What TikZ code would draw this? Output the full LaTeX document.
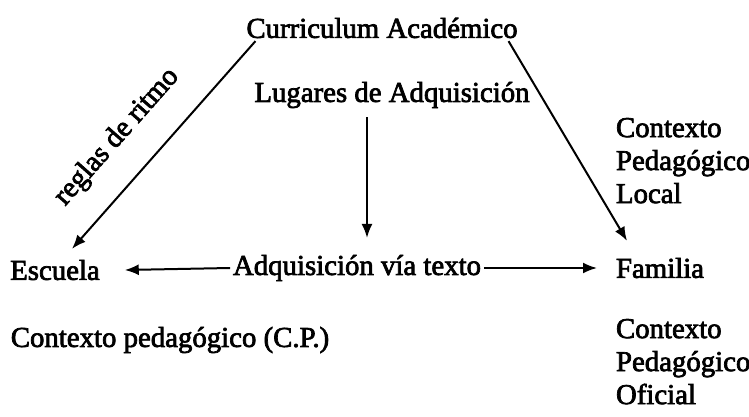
\documentclass[tikz,border=0pt]{standalone}
\usepackage{fontspec}
\setmainfont{Liberation Serif}[UprightFeatures={FakeBold=2.5}]
\usetikzlibrary{arrows.meta, positioning}

\begin{document}
\begin{tikzpicture}[x=0.5pt, y=-0.5pt, >={Latex[length=7pt,width=5.5pt]}, line width=1pt, font=\fontsize{14.4}{16.5}\selectfont]
      \tikzstyle{every node}=[inner sep=1pt, text=black]
      \tikzstyle{block}=[align=left, anchor=north west, inner sep=0pt]
      \useasboundingbox (0,0) rectangle (749,417);
      \node (CA) at (382,28) {Curriculum Académico};
      \node (LA) at (392,95) {Lugares de Adquisición};
      \node (AT) at (357,268) {Adquisición vía texto};
      \node (Es) at (55,270) {Escuela};
      \node (Fa) at (660,268) {Familia};
      \node (CP) at (170,340) {Contexto pedagógico (C.P.)};
      \node[block] (PL) at (615,117) {Contexto\\Pedagógico\\Local};
      \node[block] (PO) at (615,318) {Contexto\\Pedagógico\\Oficial};
      \draw[->] ([xshift=6pt]CA.south west) -- node[sloped, pos=0.59, above=12pt] {reglas de ritmo} ([xshift=8.5pt,yshift=4pt]Es.north);
      \draw[->] ([xshift=-6pt]CA.south east) -- ([xshift=-16.5pt,yshift=7pt]Fa.north);
      \draw[->] ([xshift=-12.5pt,yshift=-3pt]LA.south) -- ([xshift=5pt,yshift=7pt]AT.north);
      \draw[->] (AT.west) -- ([xshift=11pt]Es.east);
      \draw[->] (AT.east) -- ([xshift=-8pt]Fa.west);
\end{tikzpicture}
\end{document}
